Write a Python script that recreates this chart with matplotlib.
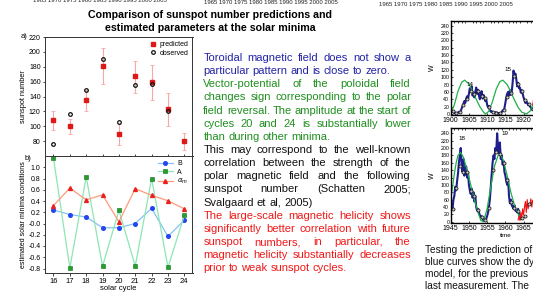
import numpy as np
import matplotlib.pyplot as plt
from matplotlib.ticker import MultipleLocator

plt.rcParams['font.family'] = ['Liberation Sans', 'DejaVu Sans']

W, H = 533, 295

# ---- left chart: sunspot predictions (panel a)
cycles = [16, 17, 18, 19, 20, 21, 22, 23, 24]
predicted = [108, 100, 135, 181, 90, 167, 159, 123, 80]
pred_low = [95, 90, 120, 157, 75, 145, 135, 100, 68]
pred_high = [121, 110, 149, 205, 103, 188, 182, 145, 91]
obs_cycles = [16, 17, 18, 19, 20, 21, 22, 23]
observed = [76, 116, 149, 190, 106, 155, 157, 120]

# ---- left chart: parameters at minima (panel b)
B_min = [0.24, 0.16, 0.115, -0.075, -0.075, 0.0, 0.27, -0.23, 0.06]
A_min = [1.16, -0.79, 0.83, -0.76, 0.235, -0.755, 0.80, -0.78, 0.145]
alpha_min = [0.32, 0.63, 0.42, 0.51, 0.03, 0.62, 0.50, 0.405, 0.26]

# ---- right charts: sunspot series (quarter-year samples)
top_start = 1900.0
top_blue = [10, 12, 8, 6, 2, 4, 1, 3, 3, 6, 4, 8, 15, 22, 28, 35, 30, 42, 48, 40,
            55, 70, 62, 75, 50, 58, 45, 60, 72, 55, 66, 50, 40, 55, 62, 42, 52, 46, 35, 40,
            25, 18, 22, 10, 6, 8, 4, 5, 2, 5, 3, 4, 1, 2, 0, 3, 5, 10, 8, 16,
            30, 45, 55, 60, 50, 65, 52, 60, 85, 118, 100, 110, 95, 75, 85, 70, 72, 58, 65, 55,
            45, 38, 30, 35, 30, 24, 28, 20, 18, 12, 15, 10, 6, 4, 8, 5]
top_years = [1900.5, 1901.5, 1902.5, 1903.5, 1904.5, 1905.5, 1906.5, 1907.5, 1908.5, 1909.5,
             1910.5, 1911.5, 1912.5, 1913.5, 1914.5, 1915.5, 1916.5, 1917.5, 1918.5, 1919.5,
             1920.5, 1921.5, 1922.5, 1923.5]
top_yearly = [9.5, 2.7, 5.0, 24.4, 42.0, 63.5, 53.8, 62.0, 48.5, 43.9, 18.6, 5.7, 3.6, 1.4,
              9.6, 47.4, 57.1, 103.9, 80.6, 63.6, 37.6, 26.1, 14.2, 5.8]
top_green_t = [1900, 1901, 1902, 1903, 1903.8, 1905, 1906, 1907, 1908, 1909, 1909.6, 1910.5,
               1911.5, 1912.5, 1913.5, 1914.3, 1915.5, 1916.5, 1917.5, 1918.5, 1919.5, 1920.8,
               1921.8, 1922.8]
top_green = [2, 25, 62, 86, 92, 82, 62, 40, 20, 5, 0, 8, 35, 68, 88, 92, 80, 60, 38, 18, 5, 0, 8, 30]
top_red_start = 1922.5
top_red = [25, 40, 35, 60, 50, 85, 60, 80, 70]

bot_start = 1945.0
bot_blue = [30, 40, 35, 60, 70, 95, 85, 110, 130, 160, 180, 200, 150, 135, 170, 125,
            140, 150, 120, 135, 100, 85, 75, 90, 65, 80, 55, 70, 40, 30, 35, 25,
            18, 12, 15, 8, 3, 5, 2, 8, 15, 25, 40, 60, 95, 130, 160, 180,
            170, 200, 190, 240, 200, 185, 215, 170, 180, 155, 165, 135, 125, 110, 100, 115,
            70, 50, 60, 45, 40, 35, 45, 30, 30, 25, 35, 20, 12, 8]
bot_years = [1945.5, 1946.5, 1947.5, 1948.5, 1949.5, 1950.5, 1951.5, 1952.5, 1953.5, 1954.5,
             1955.5, 1956.5, 1957.5, 1958.5, 1959.5, 1960.5, 1961.5, 1962.5, 1963.5, 1964.5,
             1965.5, 1966.5]
bot_yearly = [33.2, 92.6, 151.6, 136.3, 134.7, 83.9, 69.4, 31.5, 13.9, 4.4, 38.0, 141.7,
              190.2, 184.8, 159.0, 112.3, 53.9, 37.6, 27.9, 10.2, 15.1, 47.0]
bot_green_t = [1945, 1945.5, 1946, 1946.5, 1947, 1947.7, 1948.5, 1949.5, 1950.5, 1951.5, 1952.5,
               1953.3, 1954, 1955, 1956, 1957, 1958, 1958.6, 1959.5, 1960.5, 1961.5, 1962.5,
               1963.5, 1964]
bot_green = [60, 95, 130, 160, 180, 188, 175, 140, 100, 60, 25, 3, 0, 35, 95, 150, 180, 185,
             165, 125, 80, 45, 22, 15]
bot_red_start = 1963.5
bot_red = [5, 15, 3, 25, 10, 35, 18, 40, 55, 25, 60, 35, 50, 45, 62, 40, 58]

year_strip = "1965 1970 1975 1980 1985 1990 1995 2000 2005"

blue_lines = ["Toroidal magnetic field does not show a",
              "particular pattern and is close to zero."]
green_lines = ["Vector-potential of the poloidal field",
               "changes sign corresponding to the polar",
               "field reversal. The amplitude at the start of",
               "cycles 20 and 24 is substantially lower",
               "than during other minima."]
black_lines = ["This may correspond to the well-known",
               "correlation between the strength of the",
               "polar magnetic field and the following",
               "sunspot number (Schatten 2005;",
               "Svalgaard et al, 2005)"]
red_lines = ["The large-scale magnetic helicity shows",
             "significantly better correlation with future",
             "sunspot numbers, in particular, the",
             "magnetic helicity substantially decreases",
             "prior to weak sunspot cycles."]
right_lines = ["Testing the prediction of",
               "blue curves show the dy",
               "model, for the previous",
               "last measurement. The"]


def px_axes(fig, left, top, right, bottom):
    return fig.add_axes([left / W, 1 - bottom / H, (right - left) / W, (bottom - top) / H])


def ftext(fig, x, y, s, **kw):
    return fig.text(x / W, 1 - y / H, s, **kw)


def justify(fig, paragraphs, y0, dy, x0, x1, size):
    r = fig.canvas.get_renderer()
    a = fig.text(0, 0, 'n n', fontsize=size)
    b = fig.text(0, 0, 'nn', fontsize=size)
    space = a.get_window_extent(r).width - b.get_window_extent(r).width
    a.remove()
    b.remove()
    i = 0
    for lines, color in paragraphs:
        for k, line in enumerate(lines):
            y = y0 + dy * i
            words = line.split()
            texts = [ftext(fig, 0, y, w_, color=color, fontsize=size, va='center') for w_ in words]
            widths = [t.get_window_extent(r).width for t in texts]
            if k == len(lines) - 1:
                gap = space
            else:
                gap = (x1 - x0 - sum(widths)) / (len(words) - 1)
            x = x0
            for t, wd in zip(texts, widths):
                t.set_x(x / W)
                x += wd + gap
            i += 1


fig = plt.figure(figsize=(W / 100, H / 100), dpi=100)

# cut-off year labels at the very top
ftext(fig, 100, 1, year_strip, fontsize=4.3, ha='center', va='center', color='#222222')
ftext(fig, 271, 2, year_strip, fontsize=4.3, ha='center', va='center', color='#222222')
ftext(fig, 446, 5, year_strip, fontsize=4.3, ha='center', va='center', color='#222222')

ftext(fig, 210, 15, "Comparison of sunspot number predictions and", fontsize=7.7,
      fontweight='bold', ha='center', va='center')
ftext(fig, 210, 28, "estimated parameters at the solar minima", fontsize=7.7,
      fontweight='bold', ha='center', va='center')

# ---- panel a
ax_a = px_axes(fig, 44.5, 37, 192.5, 156)
ax_a.errorbar(cycles, predicted,
              yerr=[np.subtract(predicted, pred_low), np.subtract(pred_high, predicted)],
              fmt='none', ecolor='#f5a8a8', elinewidth=0.8, capsize=1.5, capthick=0.6)
ax_a.plot(cycles, predicted, 's', color='#e01818', ms=3.4, label='predicted')
ax_a.plot(obs_cycles, observed, 'o', mfc='none', mec='#111111', mew=0.9, ms=2.6, label='observed')
ax_a.set_xlim(15.45, 24.5)
ax_a.set_ylim(60, 220)
ax_a.set_yticks(range(80, 221, 20))
ax_a.set_xticks(cycles)
ax_a.tick_params(axis='x', direction='in', length=1.8, width=0.5, labelbottom=False)
ax_a.tick_params(axis='y', direction='out', length=1.8, width=0.5, labelsize=5, pad=1)
ax_a.set_ylabel('sunspot number', fontsize=5.3, labelpad=1)
ax_a.legend(loc='upper right', frameon=False, fontsize=5, handlelength=0.6, handletextpad=0.6,
            borderaxespad=0.2, labelspacing=0.25)
ftext(fig, 27.5, 37, 'a)', fontsize=5.5, ha='right', va='center')

# ---- panel b
ax_b = px_axes(fig, 44.5, 156, 192.5, 273)
ax_b.plot(cycles, B_min, '-', color='#86c2f5', lw=0.9, marker='o', mfc='#2346f0', mec='#2346f0',
          ms=2.6, label='B')
ax_b.plot(cycles, A_min, '-', color='#8ce6b4', lw=0.9, marker='s', mfc='#22a02a', mec='#116a18',
          mew=0.4, ms=2.6, label='A')
ax_b.plot(cycles, alpha_min, '-', color='#ff9a7a', lw=0.9, marker='^', mfc='#e82020', mec='#e82020',
          ms=2.8, label=r'$\alpha_m$')
ax_b.set_xlim(15.45, 24.5)
ax_b.set_ylim(-0.88, 1.2)
ax_b.set_xticks(cycles)
ax_b.set_yticks(np.arange(-0.8, 1.01, 0.2))
ax_b.yaxis.set_major_formatter(plt.FuncFormatter(lambda v, p: '%.1f' % v))
ax_b.tick_params(direction='out', length=1.8, width=0.5, labelsize=5, pad=1)
ax_b.tick_params(axis='x', labelsize=5.5, pad=2)
ax_b.set_xlabel('solar cycle', fontsize=5.5, labelpad=0)
ax_b.set_ylabel('estimated solar minima conditions', fontsize=5, labelpad=1)
ax_b.legend(loc='upper right', frameon=False, fontsize=5, handlelength=2.2, handletextpad=0.6,
            borderaxespad=0.2, labelspacing=0.2)
ftext(fig, 28, 158, 'b)', fontsize=5.5, ha='center', va='center')

for ax in (ax_a, ax_b):
    for s in ax.spines.values():
        s.set_linewidth(0.7)
        s.set_color('#333333')

# ---- middle justified text
justify(fig, [(blue_lines, '#2323a8'), (green_lines, '#1f8f1f'),
              (black_lines, '#111111'), (red_lines, '#f21818')],
        58, 13.15, 203.3, 410.8, 8.0)

# ---- right charts
def series_panel(ax, start, blue, years, yearly, gt, gv, rstart, red, x0, x1):
    t = start + 0.25 * np.arange(len(blue))
    ax.plot(t, blue, color='#1e1e8c', lw=1.5)
    ax.plot(gt, gv, color='#1db04a', lw=0.9)
    tr = rstart + 0.25 * np.arange(len(red))
    ax.plot(tr, red, color='#ee1111', lw=0.8)
    ax.plot(years, yearly, 'o', mfc='#cccccc', mec='#222222', mew=0.6, ms=2.2)
    ax.set_xlim(x0, x1)
    ax.set_ylim(-2.7, 253.6)
    ax.set_yticks(range(0, 241, 20))
    ax.xaxis.set_major_locator(MultipleLocator(5))
    ax.xaxis.set_minor_locator(MultipleLocator(1))
    ax.tick_params(axis='y', direction='in', length=1.5, width=0.5, labelsize=3.8, pad=1)
    ax.tick_params(axis='x', which='major', direction='in', length=1.5, width=0.5, labelsize=5, pad=1.5)
    ax.tick_params(axis='x', which='minor', direction='in', length=1.2, width=0.5, top=True, bottom=False)
    for s in ax.spines.values():
        s.set_linewidth(1.0)
    ax.set_ylabel('W', fontsize=5, labelpad=3)


ax_r1 = px_axes(fig, 450.7, 20.7, 560, 115)
series_panel(ax_r1, top_start, top_blue, top_years, top_yearly, top_green_t, top_green,
             top_red_start, top_red, 1900, 1930)
ax_r1.text(1905.3, 80, '14', fontsize=4.5, ha='center', va='center')
ax_r1.text(1915.6, 120, '15', fontsize=4.5, ha='center', va='center')

ax_r2 = px_axes(fig, 450.7, 128.3, 560, 222.7)
series_panel(ax_r2, bot_start, bot_blue, bot_years, bot_yearly, bot_green_t, bot_green,
             bot_red_start, bot_red, 1945, 1975)
ax_r2.text(1948.0, 225, '18', fontsize=4.5, ha='center', va='center')
ax_r2.text(1960.0, 240, '19', fontsize=4.5, ha='center', va='center')
ax_r2.set_xlabel('time', fontsize=4.5, labelpad=1)

for i, line in enumerate(right_lines):
    ftext(fig, 425, 250 + 12 * i, line, fontsize=7.3, va='center', color='#111111')

fig.savefig('out.png', dpi=100)
